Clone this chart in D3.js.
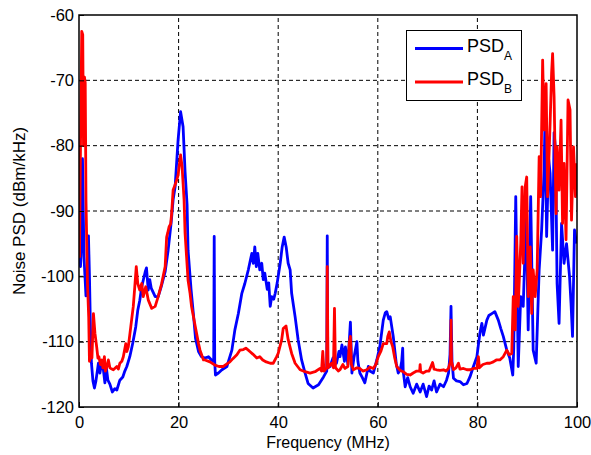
<!DOCTYPE html>
<html>

<head>
	<meta charset="utf-8">
	<script src="https://cdnjs.cloudflare.com/ajax/libs/d3/7.8.5/d3.min.js"></script>
	<style>
		body {
			margin: 0;
			background: white;
		}

		text {
			font-family: "Liberation Sans", Arial, Helvetica, sans-serif;
			fill: black;
		}

		.grid line {
			stroke: black;
			stroke-width: 1;
			stroke-dasharray: 4, 3;
		}

		.trace {
			fill: none;
			stroke-width: 2.8;
			stroke-linejoin: round;
		}
	</style>
</head>

<body>
	<svg></svg>
	<script>
		// chart values: [frequency MHz, noise PSD dBm/kHz]
		var psdA = [
			[0, -87], [0.1, -97], [0.3, -98.5], [0.5, -95], [0.7, -82], [1.0, -97], [1.2, -100], [1.4, -103],
			[1.7, -100], [1.9, -93.8], [2.1, -100], [2.3, -108], [2.5, -113.3], [2.8, -116], [3.1, -117.1],
			[3.4, -116], [3.9, -113.3], [4.2, -114.8], [4.5, -113.5], [4.9, -114.3], [5.2, -116.3], [5.5, -114],
			[5.8, -115.9], [6.2, -116.5], [6.7, -117.7], [7.2, -117.2], [7.6, -117.4], [8.2, -115.9], [8.8, -115.4],
			[9.2, -114.5], [9.6, -113.8], [10.2, -112.3], [10.8, -110.2], [11.4, -107.7], [11.8, -105.2],
			[12.2, -103.7], [12.6, -101.6], [13.3, -99.3], [13.55, -98.7], [13.9, -102.1], [14.2, -100.5],
			[14.5, -101.8], [15.3, -103.1], [15.9, -103.1], [16.5, -101.6], [17.3, -99.3], [17.9, -96],
			[18.5, -91.8], [18.9, -88.3], [19.3, -86.3], [19.9, -79.1], [20.4, -74.8], [20.9, -77.1], [21.3, -84],
			[21.7, -89], [21.9, -96], [22.5, -102], [23.0, -106], [23.4, -109.5], [24.0, -111.5], [24.6, -112.3],
			[25.3, -112.5], [26.0, -112.3], [26.6, -112.8], [27.05, -113], [27.15, -93.9], [27.25, -113],
			[27.4, -115.1], [28.0, -114.8], [28.7, -114.3], [29.7, -113.8], [30.7, -111.3], [31.3, -108.2],
			[32.0, -105.7], [32.7, -102.6], [33.3, -101.1], [34.0, -99], [34.7, -96.5], [35.0, -98], [35.3, -95.5],
			[35.6, -98.5], [35.9, -96.5], [36.3, -99], [36.7, -98], [37.0, -100.5], [37.3, -99.5], [37.8, -102],
			[38.1, -101], [38.4, -104.6], [38.7, -103.1], [39.1, -103.5], [39.4, -102.6], [39.8, -101], [40.4, -98],
			[40.8, -95.5], [41.2, -94], [41.6, -95.5], [42.0, -98], [42.4, -99], [42.7, -102.6], [43.4, -106.2],
			[44.0, -109.7], [44.7, -112.8], [45.4, -114.8], [46.0, -116.4], [47.0, -117.1], [48.1, -116.6],
			[49.1, -115.4], [49.75, -114.5], [49.85, -93.8], [49.95, -114], [50.4, -113.8], [51.0, -112.5],
			[51.7, -113.3], [52.2, -111.5], [52.4, -112.3], [52.8, -110.5], [53.3, -113], [53.5, -110.8],
			[54.0, -113.5], [54.5, -107], [54.8, -114.8], [55.2, -112.5], [55.8, -110], [56.0, -113], [56.4, -114.8],
			[56.9, -115.5], [57.4, -116.3], [58.1, -113.8], [58.4, -114.5], [59.1, -114.8], [59.8, -112.8],
			[60.4, -110.8], [61.1, -106.7], [61.5, -105.6], [61.8, -105.4], [62.2, -106.5], [62.5, -106.2],
			[63.1, -109.2], [63.7, -113.3], [64.1, -114.8], [64.5, -114.3], [64.8, -113], [65.0, -111],
			[65.1, -114.5], [65.5, -116.9], [66.0, -115.5], [66.5, -116.9], [67.1, -117.9], [67.8, -116.5],
			[68.5, -117.7], [69.1, -116.5], [69.8, -118.4], [70.3, -116.8], [70.8, -117.4], [71.3, -116],
			[71.8, -117.7], [72.5, -116.5], [73.2, -116.9], [73.8, -115.9], [74.2, -114.8], [74.5, -112],
			[74.7, -104.6], [74.9, -113], [75.2, -115.6], [75.8, -116], [76.5, -116.1], [77.2, -116.6],
			[77.9, -116.4], [78.5, -115.4], [79.2, -113.8], [79.9, -112.3], [80.5, -108.7], [80.9, -107.2],
			[81.2, -109], [81.9, -106.7], [82.3, -106], [82.9, -105.7], [83.5, -105.4], [84.2, -106.7], [84.7, -108],
			[85.2, -109.2], [85.9, -111.3], [86.5, -112.5], [87.1, -115.1], [87.3, -111], [87.7, -87.8],
			[88.2, -113.8], [88.7, -103.1], [89.2, -104.6], [89.8, -90.4], [90.2, -108.2], [90.7, -87.8],
			[91.2, -111.3], [91.8, -113.3], [92.4, -99], [92.9, -92.9], [93.4, -83.7], [93.6, -74.5], [93.9, -93.9],
			[94.3, -82], [94.6, -84.2], [95.1, -96], [95.4, -78], [95.7, -80.7], [96.0, -101.1], [96.4, -107.2],
			[96.9, -91.9], [97.4, -98], [97.9, -95], [98.5, -100], [98.8, -104.1], [99.1, -109.2], [99.5, -92.9],
			[99.9, -95]
		];

		var psdB = [
			[0, -87], [0.1, -97], [0.3, -80], [0.55, -62.5], [0.75, -63], [0.9, -80], [1.1, -69.5], [1.25, -70.4],
			[1.4, -88.3], [1.7, -101], [1.95, -106.2], [2.1, -113], [2.4, -111.8], [2.6, -112.5], [2.9, -105.7],
			[3.2, -108.7], [3.55, -110.8], [3.8, -112.5], [4.0, -112.3], [4.3, -113.5], [4.6, -112.8], [4.8, -114],
			[5.1, -112.3], [5.3, -114.5], [5.6, -113.8], [5.9, -112.8], [6.2, -114], [6.4, -114.1], [6.9, -114.3],
			[7.6, -113.8], [7.9, -114.2], [8.2, -113.3], [8.6, -113], [8.9, -112.3], [9.4, -110.3], [9.6, -111.5],
			[9.9, -110.8], [10.4, -107.7], [10.9, -104.6], [11.2, -101.6], [11.5, -98.5], [11.8, -101.1],
			[12.2, -102.1], [12.6, -101.1], [12.9, -103.1], [13.4, -101.6], [13.9, -103.6], [14.6, -104.9],
			[15.3, -104.6], [15.9, -103.1], [16.6, -101.1], [17.3, -98.5], [17.6, -94], [17.8, -93.4],
			[18.1, -92.4], [18.4, -92], [18.6, -90.4], [18.9, -86.8], [19.3, -86], [19.6, -85.3], [19.9, -84.5],
			[20.1, -83.2], [20.4, -81.4], [20.7, -83.2], [21.1, -88.3], [21.3, -93.4], [21.6, -97], [21.9, -100.6],
			[22.3, -102.6], [22.6, -104.6], [23.3, -107.5], [24.0, -110.3], [24.3, -111.3], [25.0, -112.8],
			[25.3, -112.8], [26.3, -113.1], [27.3, -113.6], [28.1, -113.8], [29.0, -113.8], [29.7, -113.4],
			[30.3, -113.1], [30.9, -112.6], [31.7, -112], [32.3, -111.3], [33.0, -111.2], [33.5, -111],
			[34.0, -111.3], [34.3, -111.5], [34.9, -111.9], [35.7, -112.5], [36.3, -112.3], [36.9, -112.8],
			[37.6, -113.1], [38.4, -113.3], [39.0, -113.3], [39.7, -112.3], [40.0, -111.8], [40.7, -109.7],
			[41.0, -108], [41.57, -107.6], [42.0, -109.7], [42.7, -111.8], [43.4, -113.3], [44.4, -114.3],
			[45.4, -114.6], [46.4, -114.8], [47.4, -114.6], [48.4, -114.1], [48.7, -114.5], [48.95, -111.5],
			[49.2, -114.5], [49.75, -114], [49.85, -98.5], [50.0, -114], [50.7, -113.3], [51.1, -114],
			[51.3, -104.9], [51.5, -114], [52.1, -114.5], [52.4, -114.3], [53.0, -113.5], [53.4, -114.1],
			[54.0, -113.8], [54.3, -110], [54.5, -109.2], [54.7, -113.5], [55.1, -114.3], [55.8, -114],
			[56.4, -114.1], [57.0, -114.5], [57.8, -114.3], [58.4, -113.9], [59.1, -114.1], [59.6, -113.5],
			[60.1, -112.3], [60.6, -111.5], [61.1, -110.3], [61.8, -110.3], [62.0, -109.2], [62.3, -108.5],
			[62.65, -110], [63.0, -110.8], [63.4, -112.5], [63.8, -113.8], [64.5, -114.4], [65.1, -114.6],
			[65.8, -115], [66.5, -115.1], [67.1, -114.8], [67.8, -114.5], [68.4, -114.5], [68.5, -113.5],
			[68.6, -114.6], [69.1, -114.8], [69.8, -114.5], [70.3, -114.5], [71.0, -113.2], [71.3, -114.2],
			[71.8, -114.3], [72.5, -114.4], [73.2, -114.3], [73.7, -114.5], [74.2, -114.1], [74.6, -113],
			[74.7, -106.7], [74.8, -113], [75.2, -114.3], [75.7, -114], [76.2, -113.3], [76.5, -114.2],
			[77.2, -114.1], [77.9, -114.3], [78.5, -114.3], [79.2, -114.1], [79.9, -114.1], [80.2, -112.3],
			[80.4, -114], [81.1, -113.5], [81.9, -113.3], [82.5, -113.3], [83.2, -113.1], [83.8, -112.8],
			[84.5, -112.8], [85.2, -112.3], [85.9, -111.3], [86.4, -112], [86.9, -111.8], [87.2, -103.1],
			[87.6, -108.2], [87.9, -93.9], [88.2, -104.6], [88.7, -95], [88.96, -86.3], [89.2, -98], [89.6, -86.3],
			[89.9, -84.8], [90.2, -103.1], [90.6, -95.5], [90.9, -105.7], [91.2, -99], [91.6, -103.1], [92.0, -99],
			[92.4, -81.7], [92.7, -87.8], [93.1, -66.9], [93.4, -77.6], [93.8, -70.5], [94.1, -87.8], [94.6, -76.6],
			[94.9, -68.9], [95.1, -65.9], [95.4, -72.5], [95.8, -90.4], [96.0, -80.2], [96.4, -86.8], [96.8, -76.1],
			[97.1, -91.9], [97.4, -82.7], [97.8, -94.4], [98.2, -73], [98.6, -74.5], [98.9, -91.4], [99.3, -80.2],
			[99.7, -87.8], [99.9, -82.7]
		];

		var xTicks = [0, 20, 40, 60, 80, 100];
		var yTicks = [-120, -110, -100, -90, -80, -70, -60];
		var seriesNames = ["A", "B"];
		var seriesColors = ["blue", "red"];

		var width = 591;
		var height = 455;
		var margins = {
			"left": 79,
			"right": 14,
			"top": 15,
			"bottom": 48
		};

		var svg = d3.select("svg")
			.attr("width", width)
			.attr("height", height);

		var x = d3.scaleLinear()
			.domain([0, 100])
			.range([margins.left, width - margins.right]);
		var y = d3.scaleLinear()
			.domain([-120, -60])
			.range([height - margins.bottom, margins.top]);

		svg.append("clipPath")
			.attr("id", "plot")
			.append("rect")
			.attr("x", x(0))
			.attr("y", y(-60))
			.attr("width", x(100) - x(0))
			.attr("height", y(-120) - y(-60));

		// dashed grid, skipping the lines that sit on the box
		var grid = svg.append("g").attr("class", "grid");
		grid.selectAll(".gx")
			.data(xTicks.slice(1, -1))
			.enter()
			.append("line")
			.attr("x1", d => x(d))
			.attr("x2", d => x(d))
			.attr("y1", y(-120))
			.attr("y2", y(-60));
		grid.selectAll(".gy")
			.data(yTicks.slice(1, -1))
			.enter()
			.append("line")
			.attr("class", "gy")
			.attr("x1", x(0))
			.attr("x2", x(100))
			.attr("y1", d => y(d))
			.attr("y2", d => y(d));

		var line = d3.line()
			.x(d => x(d[0]))
			.y(d => y(d[1]));

		var traces = svg.append("g").attr("clip-path", "url(#plot)");
		[psdA, psdB].forEach(function (data, i) {
			traces.append("path")
				.datum(data)
				.attr("class", "trace")
				.attr("stroke", seriesColors[i])
				.attr("d", line);
		});

		// box
		svg.append("rect")
			.attr("x", x(0))
			.attr("y", y(-60))
			.attr("width", x(100) - x(0))
			.attr("height", y(-120) - y(-60))
			.attr("fill", "none")
			.attr("stroke", "black")
			.attr("stroke-width", 1.5);

		// axes: labels only, ticks point inward like the source plot
		var xAxis = svg.append("g")
			.attr("transform", "translate(0," + y(-120) + ")")
			.call(d3.axisBottom(x).tickValues(xTicks).tickSize(-5).tickPadding(9));
		var yAxis = svg.append("g")
			.attr("transform", "translate(" + x(0) + ",0)")
			.call(d3.axisLeft(y).tickValues(yTicks).tickSize(-5).tickPadding(5)
				.tickFormat(d3.format("d")));
		[xAxis, yAxis].forEach(function (a) {
			a.select(".domain").remove();
			a.selectAll("text")
				.style("font-size", "16.5px")
				.style("font-family", "'Liberation Sans', Arial, sans-serif")
				.attr("fill", "black");
			a.selectAll("line").attr("stroke", "black");
		});
		yAxis.selectAll("text").text(d => d3.format("d")(d).replace("\u2212", "-"));

		svg.append("text")
			.attr("x", (x(0) + x(100)) / 2)
			.attr("y", 448)
			.attr("text-anchor", "middle")
			.style("font-size", "16px")
			.text("Frequency (MHz)");

		svg.append("text")
			.attr("transform", "translate(25," + (y(-60) + y(-120)) / 2 + ") rotate(-90)")
			.attr("text-anchor", "middle")
			.style("font-size", "17px")
			.text("Noise PSD (dBm/kHz)");

		// legend
		var legend = svg.append("g");
		legend.append("rect")
			.attr("x", 406.5)
			.attr("y", 30.5)
			.attr("width", 115)
			.attr("height", 70)
			.attr("fill", "white")
			.attr("stroke", "black")
			.attr("stroke-width", 1);
		var items = legend.selectAll(".item")
			.data(seriesNames)
			.enter()
			.append("g")
			.attr("transform", (d, i) => "translate(0," + (48.5 + i * 33.5) + ")");
		items.append("line")
			.attr("x1", 415)
			.attr("x2", 463)
			.attr("stroke", (d, i) => seriesColors[i])
			.attr("stroke-width", 2.8);
		var label = items.append("text")
			.attr("x", 467)
			.attr("y", 3)
			.style("font-size", "18px");
		label.append("tspan").text("PSD");
		label.append("tspan")
			.attr("dy", 8)
			.style("font-size", "12px")
			.text(d => d);
	</script>
</body>

</html>
